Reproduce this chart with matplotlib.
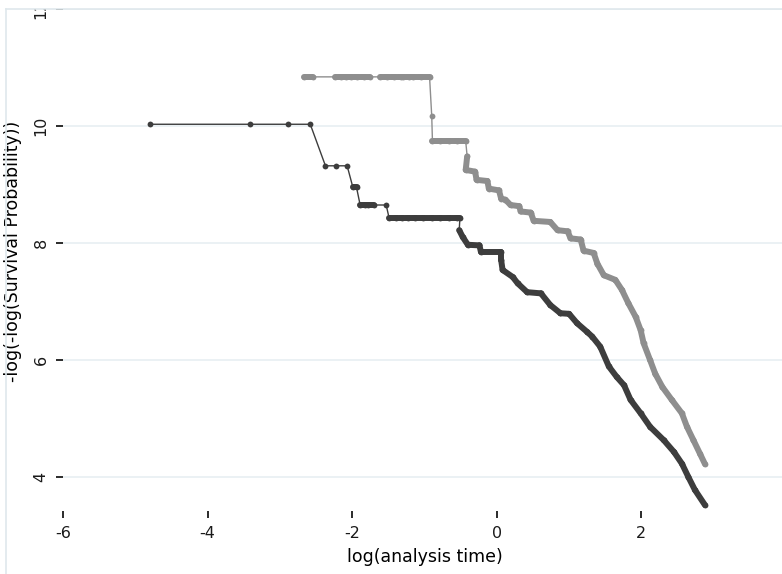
import matplotlib
matplotlib.use("Agg")
import matplotlib.pyplot as plt
from matplotlib.collections import LineCollection
from matplotlib.lines import Line2D
from matplotlib.patches import Rectangle

plt.rcParams.update({
    "font.family": "DejaVu Sans",
    "font.size": 11.5,
    "axes.unicode_minus": False,
    "text.color": "#1a1a1a",
    "xtick.color": "#1a1a1a",
    "ytick.color": "#1a1a1a",
    "figure.facecolor": "white",
    "axes.facecolor": "white",
})

# -log(-log(S)) against log(t), group 1 (dark)
dark_x = [-4.79, -3.41, -2.89, -2.58,
          -2.37, -2.23, -2.07,
          -1.99, -1.94,
          -1.89, -1.82, -1.78, -1.70, -1.53,
          -1.49, -1.40, -1.31, -1.23, -1.13, -1.02, -0.90, -0.78, -0.66, -0.55, -0.51,
          -0.52, -0.47, -0.40, -0.24, -0.22, 0.06, 0.06, 0.08, 0.22, 0.29,
          0.42, 0.61, 0.74, 0.88, 1.00, 1.11, 1.25, 1.32, 1.43, 1.55,
          1.66, 1.76, 1.85, 1.99, 2.12, 2.31, 2.45, 2.56, 2.65, 2.74, 2.88]
dark_y = [10.03, 10.03, 10.03, 10.03,
          9.32, 9.32, 9.32,
          8.95, 8.95,
          8.65, 8.65, 8.65, 8.65, 8.65,
          8.43, 8.43, 8.43, 8.43, 8.43, 8.43, 8.43, 8.43, 8.43, 8.43, 8.43,
          8.22, 8.10, 7.97, 7.96, 7.85, 7.85, 7.71, 7.54, 7.42, 7.31,
          7.16, 7.14, 6.94, 6.80, 6.79, 6.63, 6.48, 6.40, 6.23, 5.89,
          5.71, 5.57, 5.32, 5.09, 4.86, 4.63, 4.43, 4.23, 4.00, 3.78, 3.52]

# group 2 (gray)
gray_x = [-2.66, -2.54, -2.24, -2.15, -2.08, -2.01, -1.94, -1.83, -1.76, -1.62,
          -1.52, -1.42, -1.32, -1.30, -1.21, -1.16, -1.05, -0.93,
          -0.90,
          -0.89, -0.78, -0.66, -0.55, -0.43,
          -0.41,
          -0.43, -0.30, -0.28, -0.13, -0.11, 0.03, 0.06, 0.12, 0.19, 0.31,
          0.33, 0.47, 0.51, 0.74, 0.84, 0.98, 1.02, 1.16, 1.20, 1.34,
          1.39, 1.48, 1.64, 1.73, 1.82, 1.92, 1.99, 2.03, 2.12, 2.19,
          2.29, 2.42, 2.56, 2.63, 2.72, 2.81, 2.88]
gray_y = [10.84, 10.84, 10.84, 10.84, 10.84, 10.84, 10.84, 10.84, 10.84, 10.84,
          10.84, 10.84, 10.84, 10.84, 10.84, 10.84, 10.84, 10.84,
          10.17,
          9.74, 9.74, 9.74, 9.74, 9.74,
          9.48,
          9.25, 9.22, 9.08, 9.06, 8.93, 8.90, 8.76, 8.74, 8.65, 8.63,
          8.54, 8.52, 8.38, 8.36, 8.22, 8.20, 8.08, 8.06, 7.87, 7.83,
          7.65, 7.45, 7.37, 7.20, 6.97, 6.74, 6.51, 6.29, 6.00, 5.77,
          5.54, 5.32, 5.09, 4.86, 4.63, 4.40, 4.22]

x_ticks = [-6, -4, -2, 0, 2, 4]
y_ticks = [4, 6, 8, 10, 12]

DARK = "#3d3d3d"
GRAY = "#8e8e8e"


def draw_group(ax, xs, ys, color, band_below):
    # connecting line through every observation
    ax.plot(xs, ys, color=color, lw=1.0, zorder=3)
    # tied / closely spaced markers merge into a solid band
    segs = []
    for i in range(len(xs) - 1):
        same_run = ys[i] == ys[i + 1] and abs(xs[i + 1] - xs[i]) < 0.13
        in_tail = ys[i] < band_below and ys[i + 1] < band_below
        if same_run or in_tail:
            segs.append([(xs[i], ys[i]), (xs[i + 1], ys[i + 1])])
    ax.add_collection(LineCollection(segs, colors=color, linewidths=4.3,
                                     capstyle="round", joinstyle="round", zorder=3))
    ax.plot(xs, ys, "o", color=color, ms=4.2, mew=0, zorder=4)


fig = plt.figure(figsize=(7.82, 5.74), dpi=100)
ax = fig.add_axes([63 / 782, 63 / 574, 723 / 782, 502 / 574])

draw_group(ax, dark_x, dark_y, DARK, 8.3)
draw_group(ax, gray_x, gray_y, GRAY, 9.5)

ax.set_xlim(-6, 4)
ax.set_ylim(3.42, 12)
ax.set_xticks(x_ticks)
ax.set_yticks(y_ticks)
ax.set_yticklabels([str(v) for v in y_ticks], rotation=90, va="center")
for s in ax.spines.values():
    s.set_visible(False)
ax.grid(axis="y", color="#e8eff2", linewidth=1.2)
ax.set_axisbelow(True)
ax.tick_params(axis="both", direction="out", length=5, width=1.3)
ax.tick_params(axis="x", pad=6)
ax.tick_params(axis="y", pad=5.5)

ax.set_xlabel("log(analysis time)", fontsize=12.5, va="top")
ax.xaxis.set_label_coords(0.5, -0.074)
ax.set_ylabel("-log(-log(Survival Probability))", fontsize=12.5)
ax.yaxis.set_label_coords(-0.057, 0.518)

# graph region outline; anything above its top edge is cut away
top = 1 - 9 / 574
fig.add_artist(Rectangle((0, top), 1, 1 - top, transform=fig.transFigure,
                         facecolor="white", edgecolor="none", zorder=5))
frame = "#dfe8ec"
fig.add_artist(Line2D([6 / 782, 6 / 782], [0, top], transform=fig.transFigure,
                      color=frame, lw=1.2, zorder=6))
fig.add_artist(Line2D([6 / 782, 1], [top, top], transform=fig.transFigure,
                      color=frame, lw=1.2, zorder=6))

fig.savefig("out.png", dpi=100, facecolor="white")
plt.close(fig)
